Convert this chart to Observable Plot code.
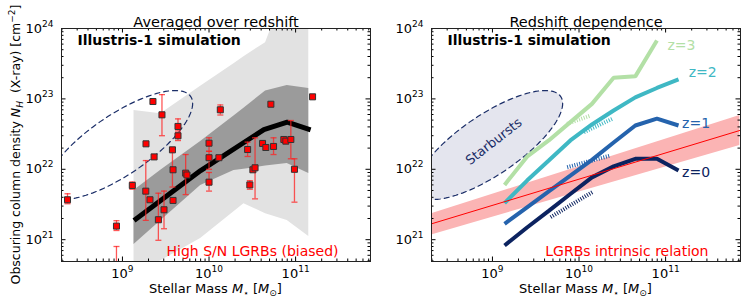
<!DOCTYPE html>
<html><head><meta charset="utf-8">
<script src="https://cdn.jsdelivr.net/npm/d3@7"></script>
<script src="https://cdn.jsdelivr.net/npm/@observablehq/plot@0.6"></script>
<style>
body{margin:0;background:#fff;}
#wrap{position:relative;width:747px;height:306px;font-family:"DejaVu Sans",sans-serif;}
#wrap svg{position:absolute;top:0;overflow:visible;}
</style></head><body><div id="wrap"></div>
<script>
// ---------- data: left panel (observed LGRBs) ----------
const grbMass = [2.32e8, 8.53e8, 8.53e8, 1.30e9, 1.86e9, 1.87e9, 2.08e9, 2.25e9, 2.32e9, 2.60e9, 2.86e9, 3.02e9, 3.78e9, 3.84e9, 3.84e9, 4.38e9, 4.38e9, 5.37e9, 5.56e9, 1.0e10, 1.0e10, 1.0e10, 1.30e10, 1.35e10, 2.79e10, 2.96e10, 3.21e10, 3.40e10, 4.15e10, 4.53e10, 5.56e10, 5.18e10, 7.31e10, 7.71e10, 8.81e10, 9.7e10, 1.57e11];
const grbNH   = [3.69e21, 1.56e21, 3.2e20, 5.89e21, 4.89e21, 2.30e22, 3.69e21, 9.18e22, 1.50e22, 1.92e21, 5.94e22, 2.66e21, 1.89e22, 9.84e21, 3.61e21, 4.06e22, 2.99e22, 8.81e21, 8.3e21, 2.35e22, 1.46e22, 6.56e21, 1.46e22, 7.0e22, 1.91e22, 6.0e21, 9.84e21, 1.05e22, 2.33e22, 2.04e22, 2.11e22, 8.4e22, 2.65e22, 2.51e22, 2.65e22, 1.0e22, 1.07e23];
const grbErrLo = [3.24e21, 1.35e21, 1e20, 5.2e21, 1.88e21, null, null, null, null, 9.8e20, 3.0e22, 1.43e21, 5.6e21, null, null, 3.5e22, 2.56e22, 4.37e21, null, 1.8e22, 1.0e22, 4.9e21, null, 5.9e22, 1.52e22, 5.2e21, null, 3.8e21, null, null, 1.62e22, null, null, null, 1.41e22, 3.41e21, null];
const grbErrHi = [4.49e21, 1.86e21, 8.0e20, 6.6e21, 1.33e22, null, null, null, null, 4.57e21, 1.15e23, 4.9e21, 2.0e22, null, null, 5.2e22, 3.3e22, 1.62e22, null, 2.8e22, 1.8e22, 9.0e21, null, 8.2e22, 2.43e22, 6.9e21, null, 2.8e22, null, null, 2.8e22, null, null, null, 4.93e22, 1.41e22, null];

// simulation median and percentile bands (left)
const medMass = [1.36e9, 8.0e9, 4.3e10, 8.0e10, 1.49e11];
const medNH   = [1.87e21, 9.6e21, 3.67e22, 4.67e22, 3.64e22];
const bandMass = [1.36e9, 2.77e9, 8.0e9, 1.94e10, 2.53e10, 4.5e10, 8.0e10, 1.42e11];
const lightLo = [3.1e20, 5.0e20, 1.04e21, 2.49e21, 3.24e21, 2.34e21, 1.87e21, 1.11e21];
const lightHi = [6.84e22, 6.17e22, 1.51e23, 3.16e23, 3.98e23, 6.3e23, 4e24, 4e24];
const darkLo  = [8.55e20, 1.85e21, 5.89e21, 9.6e21, 1.0e22, 1.11e22, 1.21e22, 8.7e21];
const darkHi  = [5.0e21, 9.7e21, 2.48e22, 5.73e22, 7.38e22, 1.29e23, 1.55e23, 1.41e23];

// ---------- data: right panel (redshift dependence) ----------
const zMass = [1.38e9, 2.51e9, 4.47e9, 7.94e9, 1.41e10, 2.51e10, 4.47e10, 7.94e10, 1.41e11];
const z3NH = [6.0e21, 1.51e22, 2.57e22, 4.68e22, 8.5e22, 2.0e23, 2.09e23, 6.76e23, null];
const z2NH = [3.31e21, 6.92e21, 1.33e22, 2.57e22, 4.33e22, 6.84e22, 1.05e23, 1.43e23, 1.89e23];
const z1NH = [1.68e21, 2.88e21, 4.85e21, 8.11e21, 1.36e22, 2.4e22, 4.19e22, 5.25e22, 4.19e22];
const z0NH = [8.28e20, 1.49e21, 2.56e21, 4.45e21, 7.67e21, 1.10e22, 1.41e22, 1.41e22, 9.6e21];
const zNames = ["z=3", "z=2", "z=1", "z=0"];
const zColors = ["#b3e0a6", "#3fb8c4", "#2563ad", "#0c2360"];
const zLabelMass = [1.05e11, 1.85e11, 1.55e11, 1.55e11];
const zLabelNH = [5.7e23, 2.37e23, 4.47e22, 9.1e21];
// short dotted segments (below each curve)
const dotMass = [[7.3e9, 1.36e10], [1.14e10, 2.42e10], [7.3e9, 2.32e10], [4.7e9, 1.42e10]];
const dotNH   = [[4.43e22, 5.8e22], [3.37e22, 5.21e22], [1.07e22, 1.57e22], [2.09e21, 4.73e21]];
// LGRB intrinsic relation
const relMass = [1.98e8, 7.2e11];
const relNH = [1.68e21, 3.56e22];
const relLo = [1.17e21, 2.18e22];
const relHi = [2.34e21, 5.8e22];
// starburst ellipse (log10 centre, log10 semi-extents, phase in degrees)
const sbCenter = [8.963, 22.345];
const sbExtent = [0.848, 0.774];
const sbPhase = 139.6;

// ticks
const majorX = [1e9, 1e10, 1e11];
const majorY = [1e21, 1e22, 1e23, 1e24];
const xDomain = [10 ** 8.296, 10 ** 11.865];
const yDomain = [10 ** 20.69, 1e24];

// ---------- build tables ----------
const grb = grbMass.map((m, i) => ({m, nh: grbNH[i], lo: grbErrLo[i], hi: grbErrHi[i]}));
const grbErr = grb.filter(d => d.lo != null);
const med = medMass.map((m, i) => ({m, nh: medNH[i]}));
const band = bandMass.map((m, i) => ({m, llo: lightLo[i], lhi: lightHi[i], dlo: darkLo[i], dhi: darkHi[i]}));
const zSeries = [z3NH, z2NH, z1NH, z0NH].flatMap((arr, k) =>
  arr.map((nh, i) => ({m: zMass[i], nh, z: zNames[k]})).filter(d => d.nh != null));
const zLabels = zNames.map((z, k) => ({z, m: zLabelMass[k], nh: zLabelNH[k], c: zColors[k]}));
const dots = dotMass.flatMap((seg, k) => seg.map((m, j) => ({m, nh: dotNH[k][j], z: zNames[k]})));
const rel = relMass.map((m, i) => ({m, nh: relNH[i], lo: relLo[i], hi: relHi[i]}));
const ellipse = d3.range(0, 361, 3).map(t => {
  const a = t * Math.PI / 180, p = sbPhase * Math.PI / 180;
  return {m: 10 ** (sbCenter[0] + sbExtent[0] * Math.cos(a)), nh: 10 ** (sbCenter[1] - sbExtent[1] * Math.cos(a - p))};
});

const minorX = [], minorY = [];
for (let e = 8; e <= 11; e++) for (let k = 2; k <= 9; k++) { const v = k * 10 ** e; if (v > xDomain[0] && v < xDomain[1]) minorX.push(v); }
for (let e = 20; e <= 23; e++) for (let k = 2; k <= 9; k++) { const v = k * 10 ** e; if (v > yDomain[0] && v < yDomain[1]) minorY.push(v); }

const supMap = {"0":"⁰","1":"¹","2":"²","3":"³","4":"⁴","5":"⁵","6":"⁶","7":"⁷","8":"⁸","9":"⁹","-":"⁻"};
const fmtPow = v => "10" + String(Math.round(Math.log10(v))).split("").map(c => supMap[c]).join("");

const FW = 309, FH = 233;
function axes() {
  return [
    Plot.tickX(majorX, {x: d => d, insetTop: FH - 4.5, stroke: "#000"}),
    Plot.tickX(majorX, {x: d => d, insetBottom: FH - 4.5, stroke: "#000"}),
    Plot.tickX(minorX, {x: d => d, insetTop: FH - 2.5, stroke: "#000"}),
    Plot.tickX(minorX, {x: d => d, insetBottom: FH - 2.5, stroke: "#000"}),
    Plot.tickY(majorY, {y: d => d, insetRight: FW - 4.5, stroke: "#000"}),
    Plot.tickY(majorY, {y: d => d, insetLeft: FW - 4.5, stroke: "#000"}),
    Plot.tickY(minorY, {y: d => d, insetRight: FW - 2.5, stroke: "#000"}),
    Plot.tickY(minorY, {y: d => d, insetLeft: FW - 2.5, stroke: "#000"}),
    Plot.axisX(majorX, {tickSize: 0, tickPadding: 7, tickFormat: fmtPow, fontSize: 13, label: null}),
    Plot.axisY(majorY, {tickSize: 0, tickPadding: 8, tickFormat: fmtPow, fontSize: 13, label: null}),
    Plot.frame({stroke: "#222", strokeWidth: 1})
  ];
}
const common = {
  height: 306, marginTop: 28, marginBottom: 45, marginLeft: 61,
  x: {type: "log", domain: xDomain},
  y: {type: "log", domain: yDomain},
  style: {fontFamily: "DejaVu Sans", fontSize: "13px", color: "#000", background: "transparent", overflow: "visible"}
};
const capSymbol = {draw(ctx, size) { const w = Math.sqrt(size) / 2; ctx.moveTo(-w, 0); ctx.lineTo(w, 0); }};

const left = Plot.plot({
  ...common, width: 372, marginRight: 2,
  marks: [
    Plot.areaY(band, {x: "m", y1: "llo", y2: "lhi", fill: "#e2e2e2", clip: true}),
    Plot.areaY(band, {x: "m", y1: "dlo", y2: "dhi", fill: "#9b9b9b", clip: true}),
    Plot.line(ellipse, {x: "m", y: "nh", stroke: "#1b2e68", strokeWidth: 1.2, strokeDasharray: "5,4", clip: true}),
    Plot.line(med, {x: "m", y: "nh", stroke: "#000", strokeWidth: 5, strokeLinecap: "butt"}),
    Plot.ruleX(grbErr, {x: "m", y1: "lo", y2: "hi", stroke: "#ff2020", strokeOpacity: 0.75, strokeWidth: 1.3, clip: true}),
    Plot.dot(grbErr, {x: "m", y: "lo", symbol: capSymbol, r: 3.4, stroke: "#ff2020", strokeOpacity: 0.75, strokeWidth: 1.3, clip: true}),
    Plot.dot(grbErr, {x: "m", y: "hi", symbol: capSymbol, r: 3.4, stroke: "#ff2020", strokeOpacity: 0.75, strokeWidth: 1.3, clip: true}),
    Plot.dot(grb, {x: "m", y: "nh", symbol: "square", r: 3.4, fill: "#ff0000", stroke: "#333", strokeWidth: 1, clip: true}),
    Plot.text(["Illustris-1 simulation"], {frameAnchor: "top-left", dx: 16, dy: 7, lineAnchor: "top", textAnchor: "start", fontWeight: "bold", fontSize: 14}),
    Plot.text(["High S/N LGRBs (biased)"], {frameAnchor: "bottom-right", dx: -32, dy: -6, lineAnchor: "bottom", textAnchor: "end", fontSize: 14, fill: "#ff0000"}),
    Plot.text(["Averaged over redshift"], {frameAnchor: "top", dy: -1.5, lineAnchor: "bottom", fontSize: 14.5}),
    ...axes()
  ]
});

const right = Plot.plot({
  ...common, width: 377, marginRight: 7,
  marks: [
    Plot.areaY(rel, {x: "m", y1: "lo", y2: "hi", fill: "#fbb4b4", clip: true}),
    Plot.line(ellipse, {x: "m", y: "nh", fill: "#e4e5ee", stroke: "#1b2e68", strokeWidth: 1.2, strokeDasharray: "5,4", clip: true}),
    Plot.line(zSeries, {x: "m", y: "nh", z: "z", stroke: d => d.z, strokeWidth: 4, strokeLinecap: "butt", strokeLinejoin: "miter"}),
    Plot.line(dots, {x: "m", y: "nh", z: "z", stroke: d => d.z, strokeWidth: 4, strokeDasharray: "1,1.5", strokeLinecap: "butt"}),
    Plot.line(rel, {x: "m", y: "nh", stroke: "#ff0000", strokeWidth: 1, clip: true}),
    Plot.text(["Starbursts"], {x: [1.04e9], y: [2.48e22], rotate: -38, fontSize: 13, fill: "#1b2e68"}),
    Plot.text(zLabels, {x: "m", y: "nh", text: "z", fill: "c", textAnchor: "start", fontSize: 14}),
    Plot.text(["Illustris-1 simulation"], {frameAnchor: "top-left", dx: 16, dy: 7, lineAnchor: "top", textAnchor: "start", fontWeight: "bold", fontSize: 14}),
    Plot.text(["LGRBs intrinsic relation"], {frameAnchor: "bottom-right", dx: -32, dy: -6, lineAnchor: "bottom", textAnchor: "end", fontSize: 14, fill: "#ff0000"}),
    Plot.text(["Redshift dependence"], {frameAnchor: "top", dy: -1.5, lineAnchor: "bottom", fontSize: 14.5}),
    ...axes()
  ],
  color: {type: "ordinal", domain: zNames, range: zColors}
});

const wrap = document.getElementById("wrap");
left.style.left = "0px";
right.style.left = "370px";
wrap.appendChild(left);
wrap.appendChild(right);

// tick labels as 10 + raised exponent
const unSup = Object.fromEntries(Object.entries(supMap).map(([k, v]) => [v, k]));
function fixTicks(svg) {
  d3.select(svg).selectAll('g[aria-label$="tick label"] text').each(function () {
    const s = this.textContent;
    if (!s.startsWith("10")) return;
    const exp = s.slice(2).split("").map(c => unSup[c] ?? c).join("");
    const sel = d3.select(this).attr("font-size", 13).style("font-size", "13px");
    sel.text(null);
    sel.append("tspan").text("10");
    sel.append("tspan").attr("font-size", 9).attr("dy", -6).text(exp);
  });
}
fixTicks(left); fixTicks(right);

// rich-text axis labels
function xLabel(svg) {
  const t = d3.select(svg).append("text")
    .attr("x", 215.5).attr("y", 293).attr("text-anchor", "middle")
    .attr("font-family", "DejaVu Sans").attr("font-size", 13).attr("fill", "#000")
    .style("white-space", "pre");
  t.append("tspan").text("Stellar Mass ");
  t.append("tspan").attr("font-style", "italic").text("M");
  t.append("tspan").attr("font-size", 9).attr("dy", 3).text("⋆");
  t.append("tspan").attr("dy", -3).text(" [");
  t.append("tspan").attr("font-style", "italic").text("M");
  t.append("tspan").attr("font-size", 9).attr("dy", 3).text("⊙");
  t.append("tspan").attr("dy", -3).text("]");
}
xLabel(left); xLabel(right);
{
  const t = d3.select(left).append("text")
    .attr("transform", "translate(19.5,144.5) rotate(-90)").attr("text-anchor", "middle")
    .attr("font-family", "DejaVu Sans").attr("font-size", 12.5).attr("fill", "#000")
    .style("white-space", "pre");
  t.append("tspan").text("Obscuring column density ");
  t.append("tspan").attr("font-style", "italic").text("N");
  t.append("tspan").attr("font-size", 9).attr("font-style", "italic").attr("dy", 3).text("H");
  t.append("tspan").attr("dy", -3).text("  (X-ray) [cm");
  t.append("tspan").attr("font-size", 9).attr("dy", -5).text("−2");
  t.append("tspan").attr("dy", 5).text("]");
}
</script></body></html>
